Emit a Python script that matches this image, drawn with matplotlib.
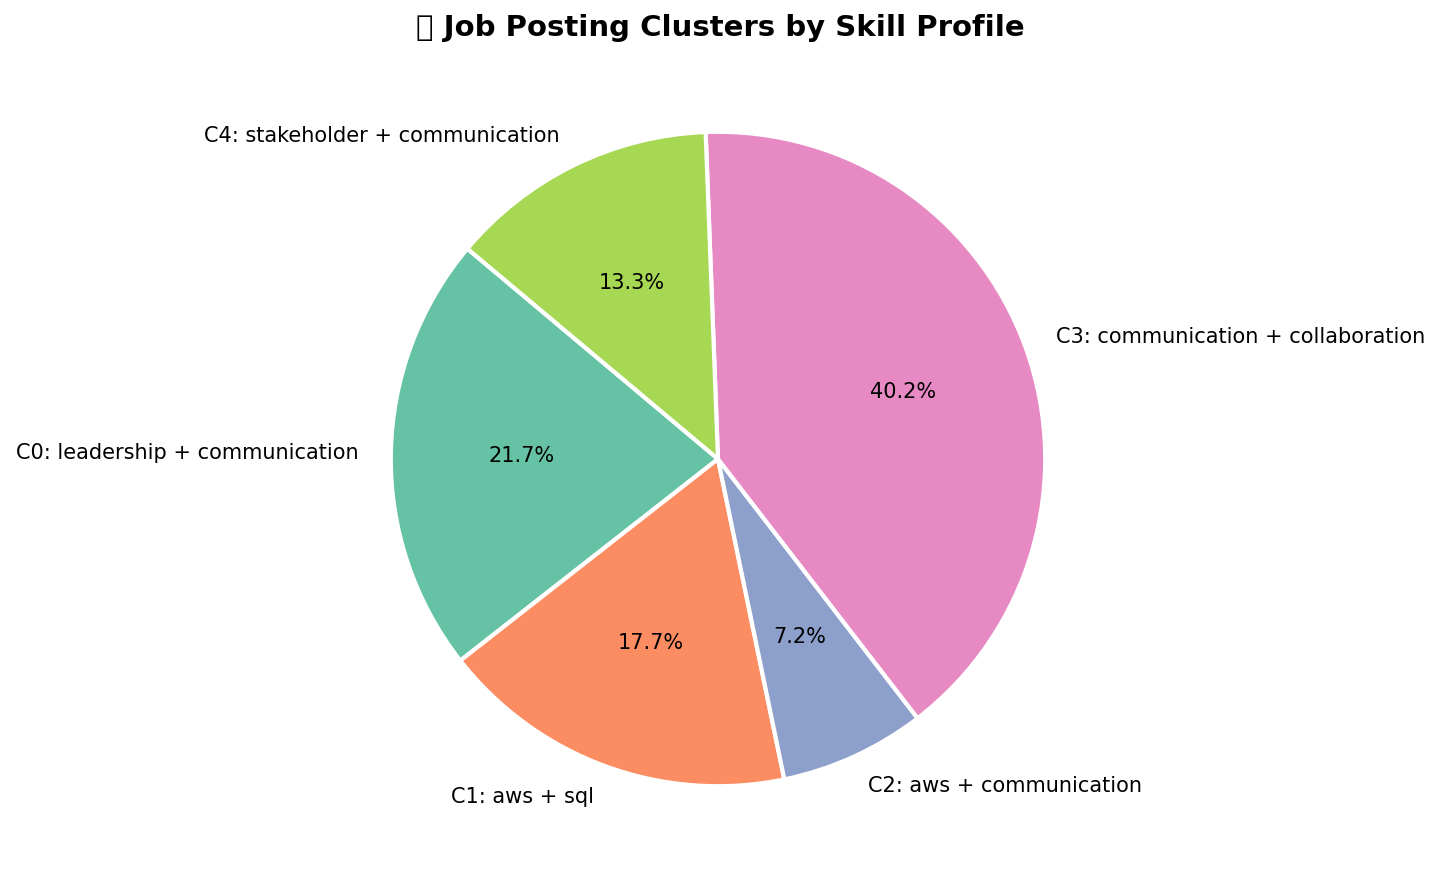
import matplotlib
matplotlib.use("Agg")
import matplotlib.pyplot as plt
import seaborn as sns

labels = ["C0: leadership + communication", "C1: aws + sql", "C2: aws + communication",
          "C3: communication + collaboration", "C4: stakeholder + communication"]
shares = [21.7, 17.7, 7.2, 40.2, 13.3]

colors = sns.color_palette("Set2", len(labels))

fig = plt.figure(figsize=(1441 / 120, 884 / 120), dpi=120)
ax = fig.add_axes([309 / 1441, 16 / 884, 818 / 1441, 818 / 884])
ax.pie(shares, labels=labels, colors=colors, autopct="%1.1f%%", startangle=140,
       wedgeprops=dict(edgecolor="white", linewidth=2.5),
       textprops=dict(fontsize=12.5))
ax.set_aspect("equal")
# the original emoji has no glyph in any installed font, so it shows as a box
fig.text(0.5, 1 - 28 / 884, "\U0001F9E9 Job Posting Clusters by Skill Profile",
         ha="center", va="center", fontsize=17.5, fontweight="bold")

fig.savefig("out.png", dpi=120)
